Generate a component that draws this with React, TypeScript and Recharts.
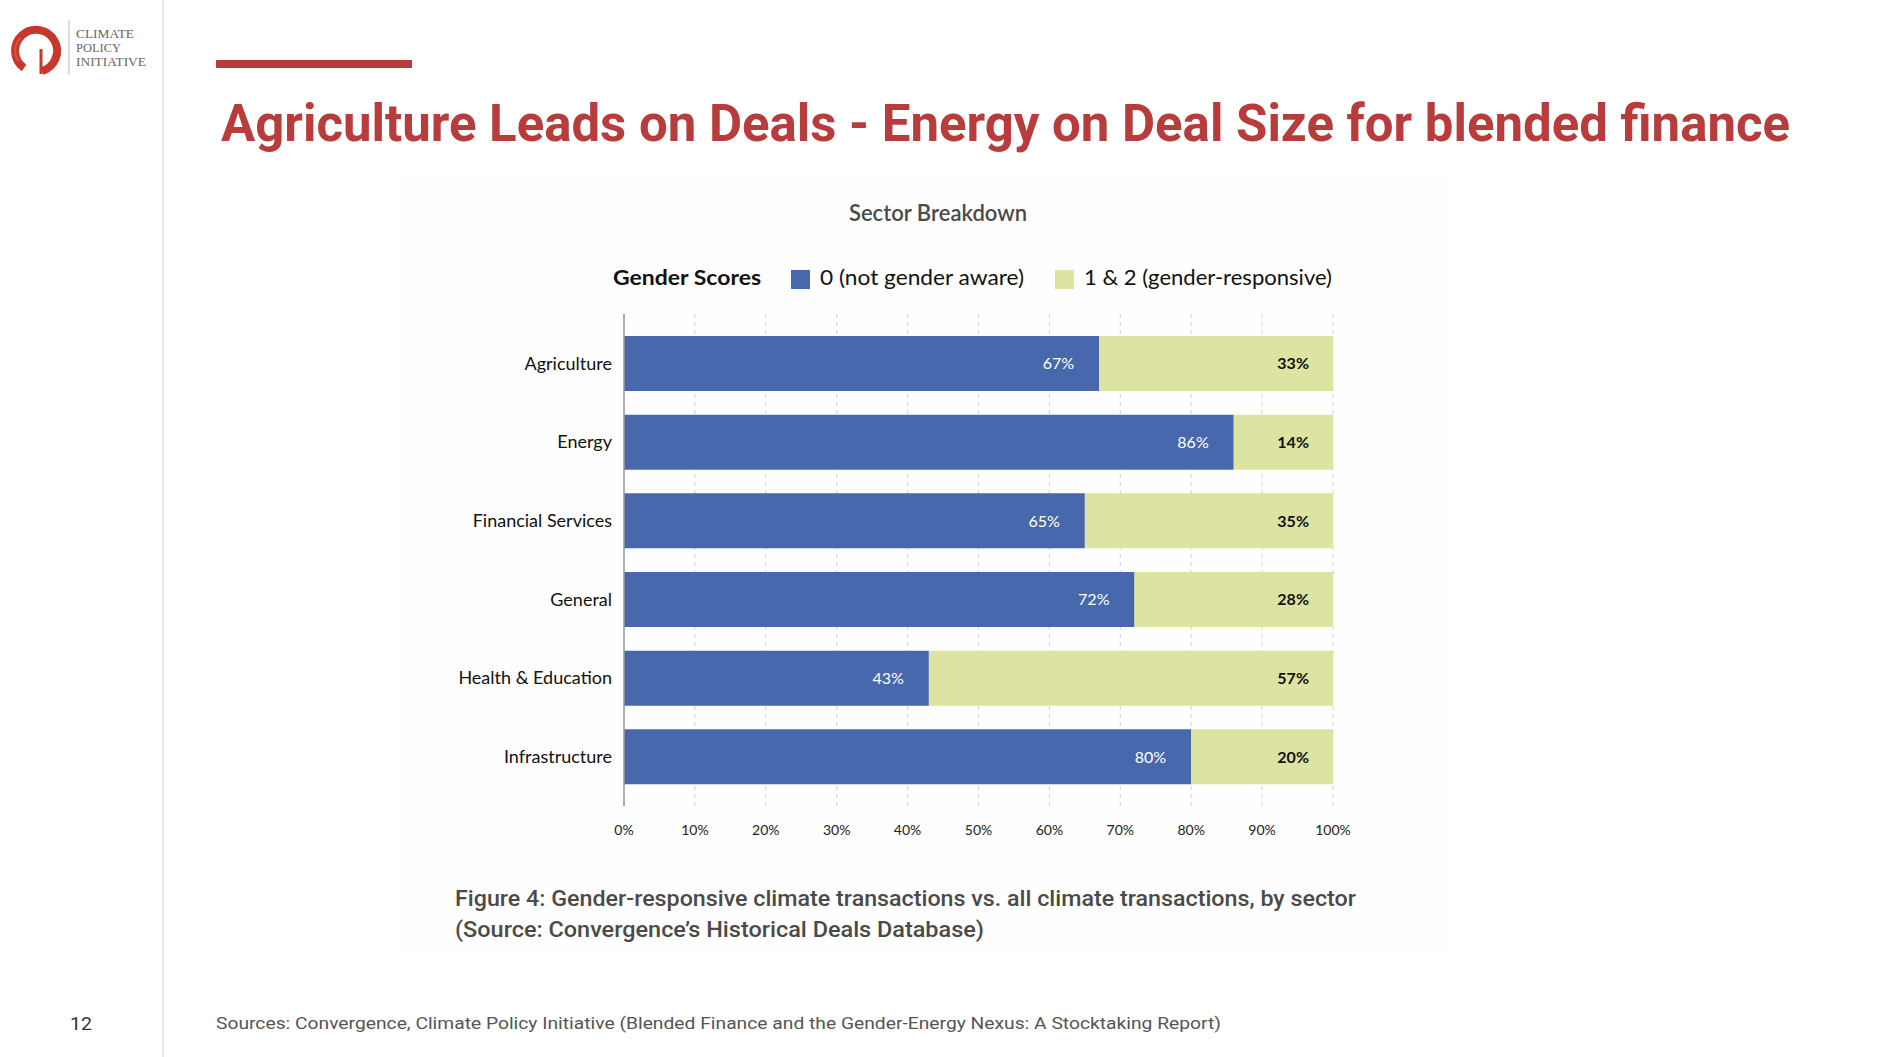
import React from 'react';
import { BarChart, Bar, XAxis, YAxis, CartesianGrid, LabelList } from 'recharts';

const sectors = ['Agriculture', 'Energy', 'Financial Services', 'General', 'Health & Education', 'Infrastructure'];
const notGenderAware = [67, 86, 65, 72, 43, 80];
const genderResponsive = [33, 14, 35, 28, 57, 20];
const xTicks = [0, 10, 20, 30, 40, 50, 60, 70, 80, 90, 100];
const seriesNames = ['0 (not gender aware)', '1 & 2 (gender-responsive)'];
const seriesColors = ['#4868AE', '#DDE3A0'];

const data = sectors.map((sector, i) => ({
  sector,
  notAware: notGenderAware[i],
  responsive: genderResponsive[i],
}));

const RED = '#B83C3B';
const pct = (v: any) => `${v}%`;

export default function App() {
  return (
    <div style={{ position: 'absolute', left: 0, top: 0, width: 1879, height: 1057, background: '#fff', overflow: 'hidden' }}>
      <svg width={1879} height={1057} style={{ position: 'absolute', left: 0, top: 0 }}>
        {/* faint chart backdrop */}
        <rect x={402} y={176} width={1048} height={776} fill="#fefefe" />
        {/* left divider */}
        <line x1={163} y1={0} x2={163} y2={1057} stroke="#e2e2e2" strokeWidth={1.5} />
        {/* logo */}
        <path d="M 24 68 A 21 21 0 1 1 42 71" fill="none" stroke="#C8372D" strokeWidth={8} />
        <path d="M 19 61 A 16 16 0 0 1 21 38" fill="none" stroke="#D9503F" strokeWidth={2} />
        <line x1={41} y1={49} x2={41} y2={74} stroke="#C8372D" strokeWidth={3} />
        <line x1={69} y1={20} x2={69} y2={75} stroke="#bbb" strokeWidth={1} />
        <g fontFamily="'Liberation Serif', 'DejaVu Serif', serif" fontSize={13} fill="#666">
          <text x={76} y={38} textLength={58} lengthAdjust="spacingAndGlyphs">CLIMATE</text>
          <text x={76} y={52} textLength={45} lengthAdjust="spacingAndGlyphs">POLICY</text>
          <text x={76} y={66} textLength={70} lengthAdjust="spacingAndGlyphs">INITIATIVE</text>
        </g>
        {/* red accent bar */}
        <rect x={216} y={60} width={196} height={8} fill={RED} />
        {/* title */}
        <text x={221} y={141} fontFamily="Roboto, sans-serif" fontWeight={700} fontSize={52} fill={RED}
          textLength={1569} lengthAdjust="spacingAndGlyphs">
          Agriculture Leads on Deals - Energy on Deal Size for blended finance
        </text>
        {/* chart title */}
        <text x={938} y={221} textAnchor="middle" fontFamily="Lato, sans-serif" fontWeight={600} fontSize={22} fill="#4a4a4a">
          Sector Breakdown
        </text>
        {/* legend */}
        <g fontFamily="Lato, sans-serif" fontSize={21} fill="#111">
          <text x={613} y={285} fontWeight={700} textLength={148} lengthAdjust="spacingAndGlyphs">Gender Scores</text>
          <rect x={791} y={270} width={19} height={19} fill={seriesColors[0]} />
          <text x={820} y={285} textLength={204} lengthAdjust="spacingAndGlyphs">{seriesNames[0]}</text>
          <rect x={1055} y={270} width={19} height={19} fill={seriesColors[1]} />
          <text x={1084} y={285} textLength={248} lengthAdjust="spacingAndGlyphs">{seriesNames[1]}</text>
        </g>
        {/* caption */}
        <g fontFamily="Roboto, sans-serif" fontWeight={500} fontSize={22} fill="#4a4a4a">
          <text x={455} y={906} textLength={901} lengthAdjust="spacingAndGlyphs">
            Figure 4: Gender-responsive climate transactions vs. all climate transactions, by sector
          </text>
          <text x={455} y={937} textLength={529} lengthAdjust="spacingAndGlyphs">
            (Source: Convergence’s Historical Deals Database)
          </text>
        </g>
        {/* page number and sources */}
        <text x={70} y={1030} fontFamily="Roboto, sans-serif" fontSize={19} fill="#333" textLength={22} lengthAdjust="spacingAndGlyphs">12</text>
        <text x={216} y={1029} fontFamily="Roboto, sans-serif" fontSize={17} fill="#555" textLength={1005} lengthAdjust="spacingAndGlyphs">
          Sources: Convergence, Climate Policy Initiative  (Blended Finance and the Gender-Energy Nexus:  A Stocktaking Report)
        </text>
      </svg>

      <div style={{ position: 'absolute', left: 400, top: 290 }}>
        <BarChart
          width={1000}
          height={570}
          data={data}
          layout="vertical"
          barCategoryGap="30%"
          barSize={55}
          margin={{ top: 24, right: 67, bottom: 0, left: 0 }}
          style={{ fontFamily: 'Lato, sans-serif' }}
        >
          <CartesianGrid horizontal={false} vertical={true} strokeDasharray="4 4" stroke="#d2d2d2" />
          <XAxis
            type="number"
            domain={[0, 100]}
            ticks={xTicks}
            tickFormatter={pct}
            axisLine={false}
            tickLine={false}
            tickSize={0}
            tickMargin={19}
            height={54}
            tick={{ fontSize: 14, fill: '#222' }}
            interval={0}
          />
          <YAxis
            type="category"
            dataKey="sector"
            width={224}
            axisLine={{ stroke: '#9a9a9a', strokeWidth: 1.5 }}
            tickLine={false}
            tickSize={0}
            tickMargin={12}
            padding={{ top: 10, bottom: 10 }}
            tick={{ fontSize: 18, fill: '#111' }}
            interval={0}
          />
          <Bar dataKey="notAware" name={seriesNames[0]} stackId="a" fill={seriesColors[0]} isAnimationActive={false}>
            <LabelList dataKey="notAware" position="insideRight" offset={25} formatter={pct}
              fill="#ffffff" fontSize={16} fontFamily="Lato, sans-serif" />
          </Bar>
          <Bar dataKey="responsive" name={seriesNames[1]} stackId="a" fill={seriesColors[1]} isAnimationActive={false}>
            <LabelList dataKey="responsive" position="insideRight" offset={24} formatter={pct}
              fill="#111111" fontSize={16} fontWeight={700} fontFamily="Lato, sans-serif" />
          </Bar>
        </BarChart>
      </div>
    </div>
  );
}
